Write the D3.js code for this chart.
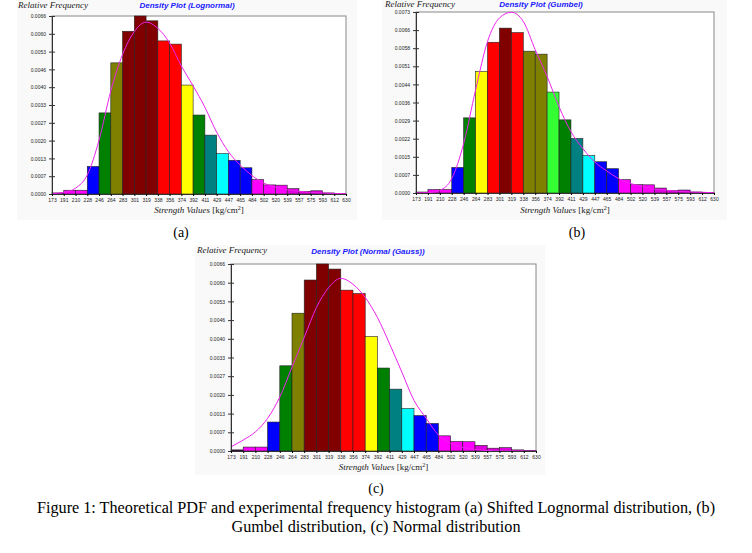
<!DOCTYPE html>
<html>
<head>
<meta charset="utf-8">
<script src="https://cdn.jsdelivr.net/npm/d3@7"></script>
<style>
  body { margin: 0; background: #fff; }
  svg { display: block; }
</style>
</head>
<body>
<svg id="chart" width="752" height="553"></svg>
<script>
// bin edge labels (strength values, kg/cm2)
const binEdges = ["173","191","210","228","246","264","283","301","319","338","356","374","392",
  "411","429","447","465","484","502","520","539","557","575","593","612","630"];

// experimental relative frequency per bin (same histogram in all three panels)
const relFreq = [0.00004, 0.00014, 0.00014, 0.00103, 0.00303, 0.00490, 0.00608, 0.00665, 0.00647,
  0.00572, 0.00560, 0.00407, 0.00295, 0.00220, 0.00151, 0.00126, 0.00098, 0.00054, 0.00034,
  0.00033, 0.00020, 0.00010, 0.00012, 0.00004, 0.00002];

// theoretical pdf read at each bin edge
const pdfLognormal = [0.00002, 0.00006, 0.00022, 0.00071, 0.00201, 0.00385, 0.00521, 0.00607,
  0.00642, 0.00619, 0.00564, 0.00478, 0.00404, 0.00324, 0.00231, 0.00158, 0.00108, 0.00069,
  0.00041, 0.00026, 0.00016, 0.00010, 0.00006, 0.00004, 0.00002, 0.00001];
const pdfGumbel = [0.00000, 0.00001, 0.00011, 0.00058, 0.00200, 0.00416, 0.00611, 0.00706,
  0.00729, 0.00692, 0.00578, 0.00470, 0.00348, 0.00247, 0.00179, 0.00125, 0.00089, 0.00058,
  0.00038, 0.00027, 0.00016, 0.00011, 0.00007, 0.00004, 0.00003, 0.00001];
const pdfNormal = [0.00015, 0.00039, 0.00068, 0.00116, 0.00192, 0.00298, 0.00404, 0.00510,
  0.00581, 0.00614, 0.00593, 0.00546, 0.00475, 0.00381, 0.00281, 0.00180, 0.00116, 0.00057,
  0.00027, 0.00013, 0.00006, 0.00002, 0.00000, 0.00000, 0.00000, 0.00000];

// y tick labels
const yLabelsA = ["0.0000","0.0007","0.0013","0.0020","0.0027","0.0033","0.0040","0.0046","0.0053","0.0060","0.0066"];
const yLabelsB = ["0.0000","0.0007","0.0015","0.0022","0.0029","0.0036","0.0044","0.0051","0.0058","0.0066","0.0073"];
const yLabelsC = ["0.0000","0.0007","0.0013","0.0020","0.0027","0.0033","0.0040","0.0046","0.0053","0.0060","0.0066"];

// bar colours
const M = "#ff00ff", M2 = "#dd00dd", B = "#0000ff", G = "#008000", O = "#808000", DR = "#800000",
      R = "#ff0000", Y = "#ffff00", T = "#008080", C = "#00ffff", L = "#33ff33";
const colorsA = [M, M, M, B, G, O, DR, DR, DR, R, R, Y, G, T, C, B, B, M, M, M, M2, M2, M2, M2, M2];
const colorsB = [M, M, M, B, G, Y, R, DR, R, O, O, L, G, T, C, B, B, M, M, M, M2, M2, M2, M2, M2];
const colorsC = ["#400040", M, M, B, G, O, DR, DR, DR, R, R, Y, G, T, C, B, B, M, M, M, M2, M2, M2, M2, M2];

const svg = d3.select("#chart");

function drawPanel(cfg) {
  const { left, right, top, bottom, yMax } = cfg;
  const g = svg.append("g");

  // faint panel background
  g.append("rect")
    .attr("x", cfg.bg[0]).attr("y", cfg.bg[1])
    .attr("width", cfg.bg[2]).attr("height", cfg.bg[3])
    .attr("fill", "#f9f9f9");

  const x = d3.scaleLinear().domain([0, binEdges.length - 1]).range([left, right]);
  const y = d3.scaleLinear().domain([0, yMax]).range([bottom, top]);

  g.append("rect")
    .attr("x", left).attr("y", top)
    .attr("width", right - left).attr("height", bottom - top)
    .attr("fill", "#fff").attr("stroke", "#888").attr("stroke-width", 1);

  // bars
  g.selectAll(".bar")
    .data(relFreq)
    .join("rect")
    .attr("x", (d, i) => x(i))
    .attr("y", d => y(Math.min(d, yMax)))
    .attr("width", (d, i) => x(i + 1) - x(i))
    .attr("height", d => y(0) - y(Math.min(d, yMax)))
    .attr("fill", (d, i) => cfg.colors[i])
    .attr("stroke", "#222")
    .attr("stroke-width", 0.6);

  // pdf curve
  const line = d3.line()
    .x((d, i) => x(i))
    .y(d => y(d))
    .curve(d3.curveMonotoneX);

  g.append("path")
    .datum(cfg.pdf)
    .attr("fill", "none")
    .attr("stroke", "#ee22ee")
    .attr("stroke-width", 1)
    .attr("d", line);

  // axes
  const yAxis = g.append("g")
    .attr("transform", `translate(${left},0)`)
    .call(d3.axisLeft(y)
      .tickValues(d3.range(11).map(i => i * yMax / 10))
      .tickFormat((d, i) => cfg.yLabels[i])
      .tickSize(3).tickPadding(3).tickSizeOuter(0));
  yAxis.selectAll(".tick line").attr("x2", 3).attr("x1", -3).attr("stroke", "#333");

  const xAxis = g.append("g")
    .attr("transform", `translate(0,${bottom})`)
    .call(d3.axisBottom(x)
      .tickValues(d3.range(binEdges.length))
      .tickFormat(i => binEdges[i])
      .tickSize(2).tickPadding(2).tickSizeOuter(0));

  [yAxis, xAxis].forEach(a => {
    a.select(".domain").attr("stroke", "#333");
    a.selectAll("text")
      .attr("font-family", "Arial, 'Liberation Sans', sans-serif")
      .attr("font-size", 5)
      .attr("fill", "#222");
  });

  // titles
  g.append("text")
    .attr("x", cfg.relX).attr("y", cfg.relY)
    .attr("font-family", "'Liberation Serif', 'Times New Roman', serif")
    .attr("font-style", "italic")
    .attr("font-size", 9)
    .attr("fill", "#222")
    .text("Relative Frequency");

  g.append("text")
    .attr("x", cfg.titleX).attr("y", cfg.titleY)
    .attr("text-anchor", "middle")
    .attr("font-family", "Arial, 'Liberation Sans', sans-serif")
    .attr("font-style", "italic")
    .attr("font-weight", "bold")
    .attr("font-size", 8)
    .attr("fill", "#1a1aff")
    .text(cfg.title);

  const xl = g.append("text")
    .attr("x", (left + right) / 2).attr("y", cfg.xLabelY)
    .attr("text-anchor", "middle")
    .attr("font-family", "'Liberation Serif', 'Times New Roman', serif")
    .attr("font-size", 9)
    .attr("fill", "#222");
  xl.append("tspan").attr("font-style", "italic").text("Strength Values  ");
  xl.append("tspan").text("[kg/cm");
  xl.append("tspan").attr("font-size", 6).attr("dy", -3.5).text("2");
  xl.append("tspan").attr("dy", 3.5).text("]");

  g.append("text")
    .attr("x", cfg.capX).attr("y", cfg.capY)
    .attr("text-anchor", "middle")
    .attr("font-family", "'Liberation Serif', 'Times New Roman', serif")
    .attr("font-size", 14)
    .attr("fill", "#000")
    .text(cfg.caption);
}

drawPanel({
  left: 52, right: 346, top: 16, bottom: 194, yMax: 0.00665,
  colors: colorsA, pdf: pdfLognormal, yLabels: yLabelsA,
  title: "Density Plot (Lognormal)", titleX: 187, titleY: 8,
  relX: 18, relY: 8, xLabelY: 213, bg: [17, 0, 340, 220],
  caption: "(a)", capX: 181, capY: 237
});

drawPanel({
  left: 416, right: 714, top: 12, bottom: 193, yMax: 0.0073,
  colors: colorsB, pdf: pdfGumbel, yLabels: yLabelsB,
  title: "Density Plot (Gumbel)", titleX: 541, titleY: 7,
  relX: 385, relY: 7, xLabelY: 213, bg: [382, 0, 345, 220],
  caption: "(b)", capX: 577, capY: 237
});

drawPanel({
  left: 231, right: 536, top: 264, bottom: 451, yMax: 0.00665,
  colors: colorsC, pdf: pdfNormal, yLabels: yLabelsC,
  title: "Density Plot (Normal (Gauss))", titleX: 368, titleY: 254,
  relX: 197, relY: 253, xLabelY: 470, bg: [195, 245, 350, 230],
  caption: "(c)", capX: 376, capY: 493
});

// figure caption
const caption = svg.append("text")
  .attr("text-anchor", "middle")
  .attr("font-family", "'Liberation Serif', 'Times New Roman', serif")
  .attr("font-size", 16.2)
  .attr("fill", "#000");
caption.append("tspan").attr("x", 376).attr("y", 513)
  .text("Figure 1: Theoretical PDF and experimental frequency histogram (a) Shifted Lognormal distribution, (b)");
caption.append("tspan").attr("x", 376).attr("y", 532)
  .text("Gumbel distribution, (c) Normal distribution");
</script>
</body>
</html>
